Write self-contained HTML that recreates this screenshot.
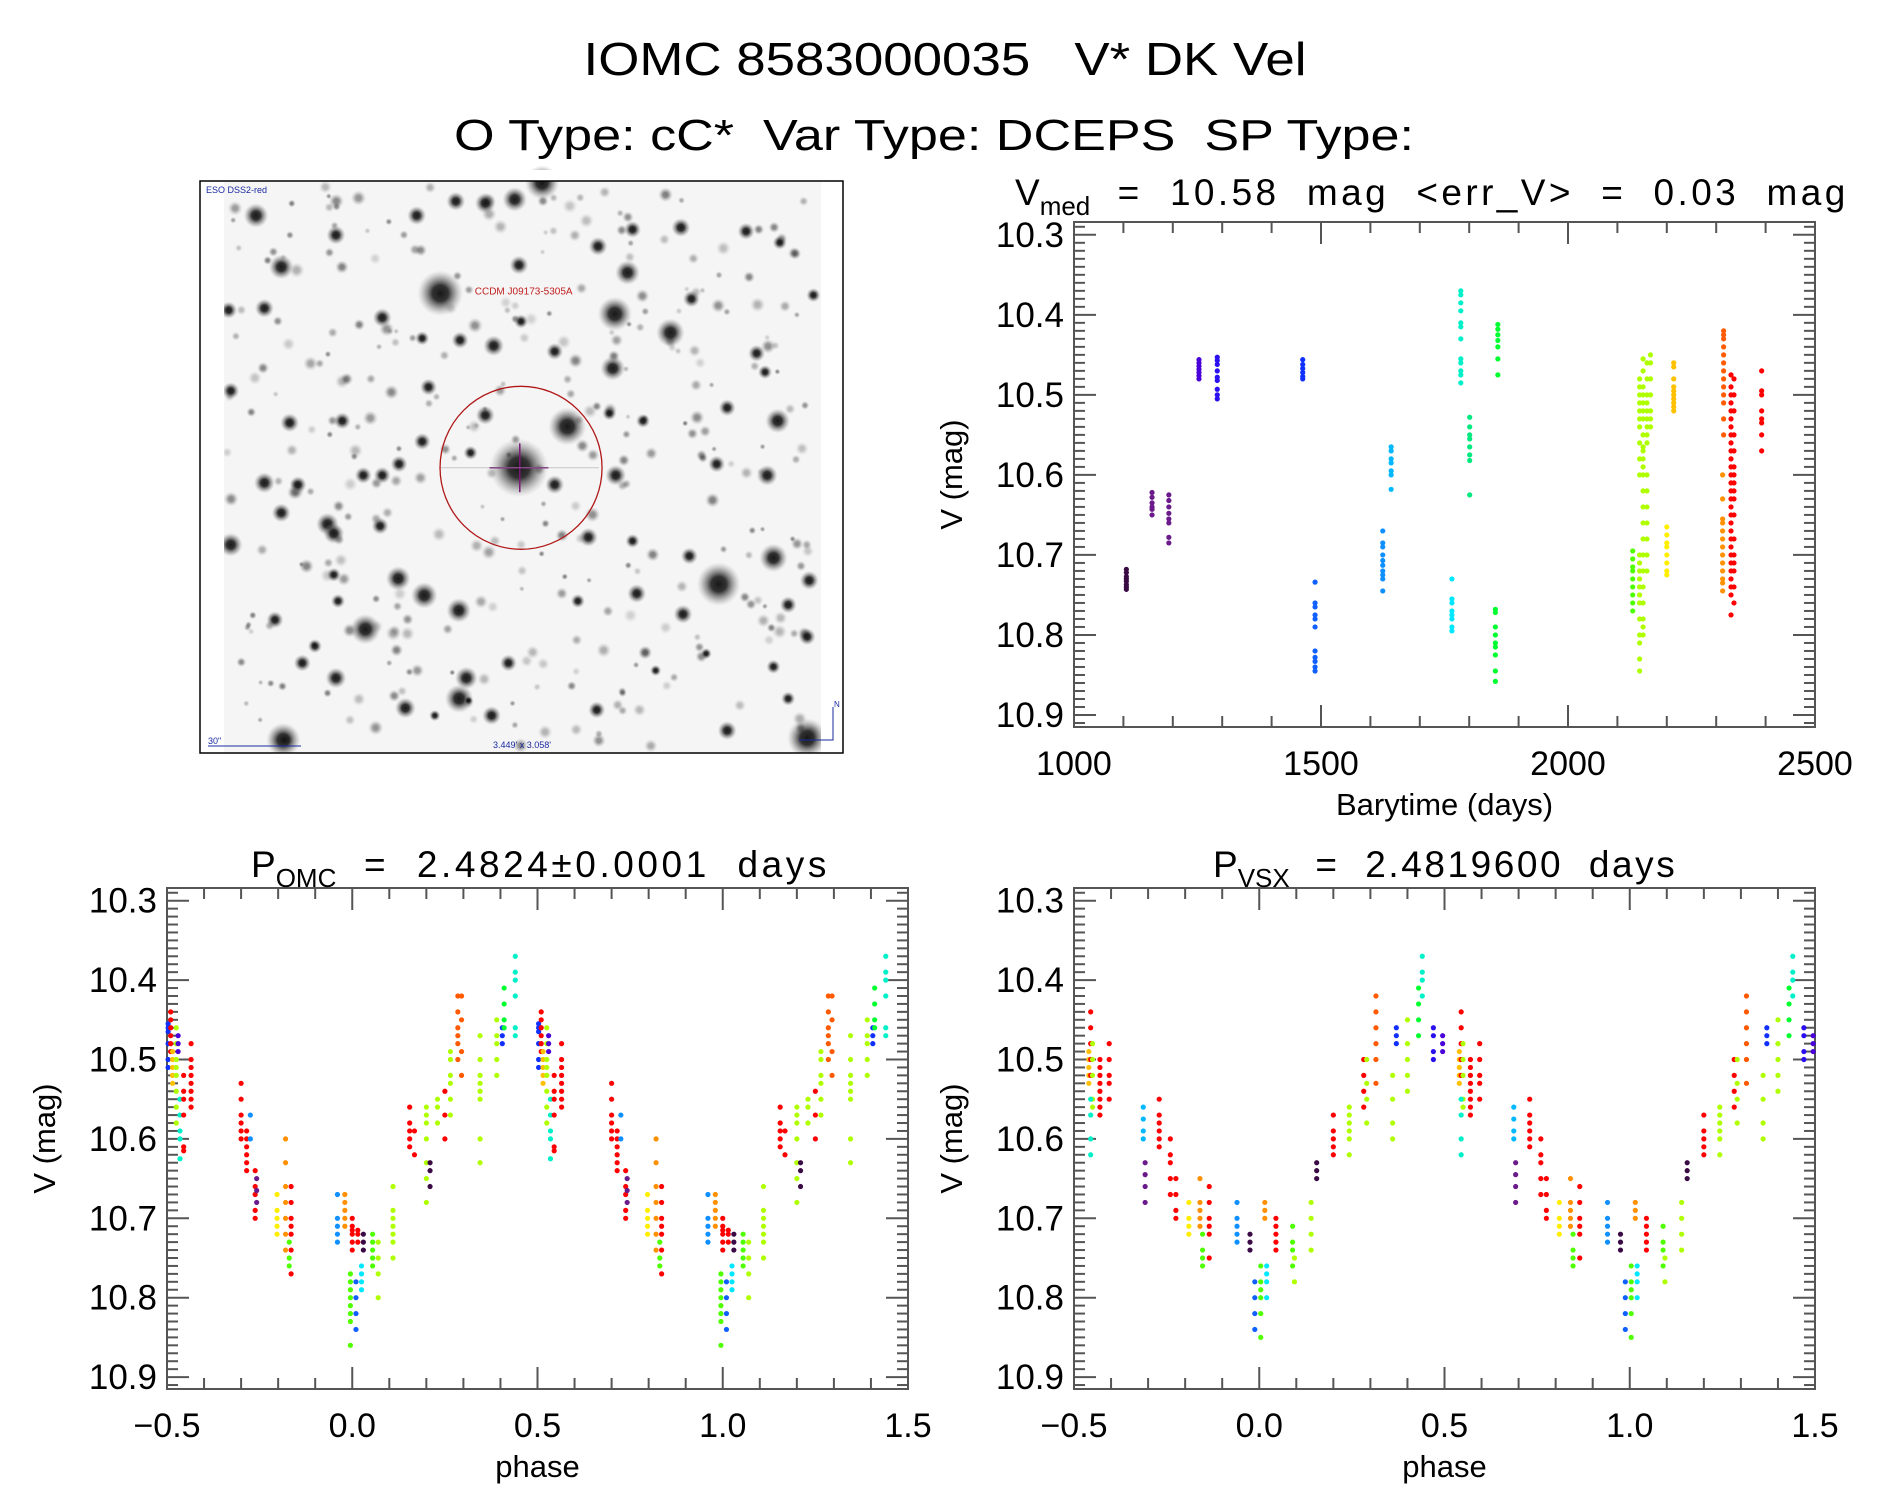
<!DOCTYPE html>
<html><head><meta charset="utf-8">
<style>
html,body{margin:0;padding:0;background:#fff;}
svg{display:block;font-family:"Liberation Sans",sans-serif;}
svg text{white-space:pre;}
</style></head>
<body>
<svg id="root" width="1889" height="1494" viewBox="0 0 1889 1494" xmlns="http://www.w3.org/2000/svg">
<defs>
<radialGradient id="starg">
<stop offset="0" stop-color="#000" stop-opacity="1"/>
<stop offset="0.35" stop-color="#111" stop-opacity="0.95"/>
<stop offset="0.7" stop-color="#555" stop-opacity="0.45"/>
<stop offset="1" stop-color="#999" stop-opacity="0"/>
</radialGradient>
</defs>
<text x="945" y="75" font-size="46" text-anchor="middle" textLength="723" lengthAdjust="spacingAndGlyphs">IOMC 8583000035   V* DK Vel</text>
<text x="934" y="150" font-size="44" text-anchor="middle" textLength="960" lengthAdjust="spacingAndGlyphs">O Type: cC*  Var Type: DCEPS  SP Type:</text>
<g id="sky"></g>
<g id="p1"></g>
<g id="p2"></g>
<g id="p3"></g>
</svg>
<script>
// ---- data ----
const colorKeys = ['dp','pu','in','bv','bl','b2','lb','sk','cy','tq','tg','gr','g2','yg','ye','go','or','ro','re'];
const colorVals = ['#3a0a45','#6a1a8a','#4a00d8','#2a10f0','#1030ff','#1060ff','#1090ff','#00b8ff','#00e8ff','#00f0c8','#00e880','#00ff30','#50ff00','#b0ff00','#ffee00','#ffc000','#ff9000','#ff5a00','#ff0000'];

const timeT = [1106,1158,1192,1253,1290,1463,1488,1625,1642,1765,1783,1801,1853,1858,2131,2145,2152,2160,2167,2200,2214,2313,2315,2330,2336,2392];
const timeC = ['dp','pu','pu','in','bv','bl','b2','lb','sk','cy','tq','tg','gr','gr','g2','yg','yg','yg','yg','ye','go','or','ro','re','re','re'];
const timeV = [
[10.718,10.722,10.727,10.73,10.733,10.737,10.74,10.743],
[10.622,10.628,10.635,10.64,10.643,10.65],
[10.625,10.632,10.64,10.648,10.655,10.66,10.678,10.685],
[10.456,10.46,10.464,10.468,10.472,10.476,10.48],
[10.453,10.457,10.462,10.47,10.478,10.482,10.493,10.5,10.505],
[10.456,10.462,10.467,10.472,10.477,10.48],
[10.734,10.76,10.765,10.775,10.78,10.79,10.82,10.828,10.833,10.84,10.845],
[10.67,10.685,10.69,10.7,10.707,10.713,10.72,10.725,10.73,10.745],
[10.565,10.57,10.58,10.585,10.595,10.6,10.618],
[10.73,10.755,10.76,10.77,10.775,10.78,10.79,10.795],
[10.37,10.375,10.385,10.395,10.41,10.415,10.43,10.455,10.46,10.47,10.475,10.485],
[10.528,10.54,10.55,10.555,10.565,10.575,10.582,10.625],
[10.768,10.772,10.79,10.8,10.81,10.815,10.825,10.845,10.858],
[10.412,10.418,10.425,10.432,10.44,10.455,10.475],
[10.695,10.705,10.715,10.72,10.73,10.74,10.75,10.76,10.77],
[10.48,10.49,10.5,10.51,10.52,10.53,10.54,10.56,10.58,10.6,10.7,10.71,10.72,10.73,10.74,10.75,10.76,10.78,10.8,10.81,10.83,10.845],
[10.455,10.47,10.49,10.5,10.51,10.52,10.53,10.55,10.565,10.57,10.58,10.59,10.6,10.62,10.64,10.66,10.68,10.7,10.72,10.74,10.76,10.78,10.79,10.8],
[10.46,10.48,10.5,10.51,10.52,10.53,10.54,10.55,10.56,10.6,10.62,10.64,10.66,10.68,10.7,10.72],
[10.45,10.46,10.48,10.5,10.52,10.53,10.54],
[10.665,10.675,10.685,10.69,10.7,10.71,10.72,10.725],
[10.46,10.465,10.48,10.49,10.495,10.5,10.505,10.51,10.515,10.52],
[10.6,10.63,10.655,10.66,10.67,10.68,10.69,10.7,10.71,10.72,10.73,10.735,10.745],
[10.42,10.425,10.43,10.44,10.45,10.46,10.47,10.48,10.49,10.5,10.51,10.53,10.55],
[10.475,10.49,10.5,10.51,10.52,10.53,10.54,10.55,10.56,10.57,10.58,10.59,10.6,10.61,10.62,10.63,10.64,10.65,10.66,10.67,10.68,10.69,10.7,10.71,10.72,10.73,10.74,10.75,10.775],
[10.48,10.5,10.52,10.55,10.57,10.59,10.6,10.61,10.62,10.63,10.65,10.68,10.7,10.71,10.72,10.74,10.76],
[10.47,10.495,10.5,10.52,10.53,10.535,10.55,10.57]
];

const omcP = [-0.497,-0.49,-0.485,-0.475,-0.47,-0.465,-0.455,-0.435,-0.3,-0.285,-0.275,-0.262,-0.258,-0.203,-0.18,-0.165,-0.17,-0.04,-0.02,0.0,0.015,0.03,-0.005,0.01,0.025,0.055,0.07,0.11,0.155,0.168,0.2,0.21,0.23,0.25,0.265,0.285,0.295,0.345,0.39,0.405,0.41,0.44];
const omcC = ['bl','re','go','yg','in','tq','re','re','re','re','lb','re','pu','ye','or','re','g2','lb','or','re','re','dp','g2','b2','cy','g2','yg','yg','re','re','yg','dp','yg','re','yg','ro','ro','yg','yg','bl','gr','tq'];
const omcV = [
[10.455,10.46,10.465,10.48,10.5,10.51],[10.44,10.45,10.46,10.47,10.48,10.49],[10.49,10.5,10.51,10.52,10.53],
[10.46,10.48,10.5,10.51,10.52,10.54,10.56,10.58],[10.47,10.48,10.49],[10.55,10.57,10.59,10.6,10.625],
[10.52,10.54,10.55,10.57,10.61,10.615],[10.48,10.5,10.51,10.52,10.53,10.54,10.55,10.56],
[10.53,10.55,10.57,10.58,10.59,10.6],[10.59,10.6,10.61,10.62,10.63,10.64],[10.57,10.6],
[10.64,10.66,10.67,10.69,10.7],[10.65,10.665,10.68],[10.67,10.69,10.7,10.71,10.72],
[10.6,10.63,10.66,10.68,10.7,10.72,10.74],[10.66,10.68,10.7,10.71,10.72,10.74,10.77],[10.73,10.75,10.76],
[10.67,10.7,10.71,10.72,10.73],[10.67,10.68,10.69,10.7,10.71],[10.7,10.71,10.715,10.72,10.73,10.74],
[10.715,10.72,10.73],[10.72,10.73,10.74],[10.77,10.78,10.79,10.8,10.81,10.82,10.83,10.86],
[10.78,10.8,10.82,10.84],[10.76,10.77,10.78,10.79],[10.72,10.73,10.74,10.75,10.76],[10.73,10.75,10.77,10.8],
[10.66,10.69,10.7,10.71,10.72,10.73,10.75],[10.56,10.58,10.59,10.6,10.61],[10.59,10.62],
[10.56,10.57,10.58,10.6,10.63,10.65,10.68],[10.63,10.64,10.66],[10.55,10.56,10.58],[10.54,10.57,10.6],
[10.49,10.5,10.52,10.53,10.55,10.57],[10.42,10.44,10.46,10.47,10.48,10.5],[10.42,10.45,10.49,10.52],
[10.47,10.5,10.52,10.53,10.54,10.55,10.6,10.63],[10.45,10.47,10.48,10.5,10.52],[10.46,10.47,10.48],
[10.41,10.43,10.45,10.46],[10.37,10.39,10.4,10.42,10.46,10.47]
];

const vsxP = [-0.46,-0.455,-0.45,-0.455,-0.43,-0.405,-0.313,-0.308,-0.27,-0.24,-0.225,-0.19,-0.16,-0.153,-0.135,-0.06,-0.025,-0.012,0.004,0.015,0.02,0.045,0.09,0.095,0.14,0.155,0.2,0.243,0.282,0.29,0.315,0.36,0.37,0.4,0.43,0.44,0.47,0.495];
const vsxC = ['go','re','yg','tq','re','re','sk','pu','re','re','re','ye','or','g2','re','lb','dp','b2','g2','or','cy','re','g2','yg','yg','dp','re','yg','re','yg','ro','yg','bl','yg','gr','tq','bv','in'];
const vsxV = [
[10.49,10.5,10.51,10.52,10.53],[10.44,10.46,10.48,10.5,10.52],[10.48,10.5,10.52,10.55,10.56],[10.55,10.57,10.6,10.62],
[10.5,10.51,10.52,10.53,10.54,10.55,10.56,10.57],[10.48,10.5,10.52,10.53,10.55],[10.56,10.575,10.59,10.6],
[10.63,10.645,10.66,10.68],[10.55,10.57,10.58,10.59,10.6,10.61],[10.6,10.62,10.63,10.65,10.67],[10.65,10.67,10.69,10.7],
[10.68,10.7,10.71,10.72],[10.65,10.68,10.69,10.7,10.71],[10.72,10.74,10.75,10.76],[10.66,10.68,10.7,10.71,10.72,10.75],
[10.68,10.7,10.71,10.72,10.73],[10.72,10.73,10.74],[10.78,10.8,10.82,10.84],[10.76,10.78,10.79,10.8,10.82,10.85],
[10.68,10.69,10.7],[10.76,10.77,10.78,10.8],[10.7,10.71,10.72,10.73,10.74],[10.71,10.73,10.74,10.76],[10.75,10.78],
[10.68,10.7,10.72,10.74],[10.63,10.64,10.65],[10.57,10.59,10.6,10.61,10.62],[10.56,10.57,10.58,10.59,10.6,10.62],
[10.5,10.52,10.54,10.56],[10.5,10.53,10.55,10.58],[10.42,10.44,10.46,10.48,10.5,10.53],[10.52,10.55,10.58,10.6],
[10.46,10.47,10.48],[10.45,10.48,10.5,10.52,10.54],[10.41,10.43,10.45,10.47],[10.37,10.39,10.4,10.42],
[10.46,10.47,10.49,10.5],[10.47,10.48,10.49]
];

const yTicks = [10.3,10.4,10.5,10.6,10.7,10.8,10.9];
const yTickLabels = ['10.3','10.4','10.5','10.6','10.7','10.8','10.9'];
const timeTicks = [1000,1500,2000,2500];
const timeTickLabels = ['1000','1500','2000','2500'];
const phaseTicks = [-0.5,0,0.5,1,1.5];
const phaseTickLabels = ['\u22120.5','0.0','0.5','1.0','1.5'];

// ---- helpers ----
const NS='http://www.w3.org/2000/svg';
function mk(tag, attrs, parent){const e=document.createElementNS(NS,tag);for(const k in attrs)e.setAttribute(k,attrs[k]);parent.appendChild(e);return e;}
function colorOf(k){return colorVals[colorKeys.indexOf(k)];}

function makePlot(g, box, xmin, xmax, xTicks, xLabels, xMinorStep, xLabel){
  const ymin=10.284, ymax=10.915;
  const sx=v=>box.x0+(v-xmin)/(xmax-xmin)*(box.x1-box.x0);
  const sy=v=>box.y0+(v-ymin)/(ymax-ymin)*(box.y1-box.y0);
  const frame=mk('rect',{x:box.x0,y:box.y0,width:box.x1-box.x0,height:box.y1-box.y0,fill:'none',stroke:'#555','stroke-width':2},g);
  
  
  for(let i=0;i<=63;i++){
    const v=10.29+i*0.01; if(v>ymax) break;
    const y=sy(v); const major=Math.abs(Math.round(v*10)/10-v)<1e-6;
    const L=major?22:11;
    mk('line',{x1:box.x0,x2:box.x0+L,y1:y,y2:y,stroke:'#555','stroke-width':2},g);
    mk('line',{x1:box.x1,x2:box.x1-L,y1:y,y2:y,stroke:'#555','stroke-width':2},g);
  }
  yTicks.forEach((v,i)=>{
    const t=mk('text',{x:box.x0-10,y:sy(v)+12,'font-size':35,'text-anchor':'end'},g);
    t.textContent=yTickLabels[i];
    
    
  });
  const nMinor=Math.round((xmax-xmin)/xMinorStep);
  for(let i=0;i<=nMinor;i++){
    const v=xmin+i*xMinorStep; const x=sx(v);
    const major=xTicks.some(t=>Math.abs(t-v)<1e-6);
    const L=major?22:11;
    mk('line',{x1:x,x2:x,y1:box.y1,y2:box.y1-L,stroke:'#555','stroke-width':2},g);
    mk('line',{x1:x,x2:x,y1:box.y0,y2:box.y0+L,stroke:'#555','stroke-width':2},g);
  }
  xTicks.forEach((v,i)=>{
    const t=mk('text',{x:sx(v),y:box.y1+48,'font-size':34,'text-anchor':'middle'},g);
    t.textContent=xLabels[i];
    
    
  });
  const xt=mk('text',{x:(box.x0+box.x1)/2,y:box.y1+88,'font-size':31,'text-anchor':'middle'},g);
  xt.textContent=xLabel;
  
  
  const cy=(box.y0+box.y1)/2, cx=box.x0-112;
  const yt=mk('text',{x:cx,y:cy,'font-size':31,'text-anchor':'middle',transform:`rotate(-90 ${cx} ${cy})`},g);
  yt.textContent='V (mag)';
  
  
  return {sx,sy};
}

function dot(g,x,y,c){
  const d=mk('circle',{cx:x,cy:y,r:2.6,fill:c},g);
  
  
}

// ---- time plot ----
(function(){
  const g=document.getElementById('p1');
  const ax=makePlot(g,{x0:1074,x1:1815,y0:222,y1:727},1000,2500,timeTicks,timeTickLabels,100,'Barytime (days)');
  timeT.forEach((t,i)=>{timeV[i].forEach(v=>dot(g,ax.sx(t),ax.sy(v),colorOf(timeC[i])));});
  const tt=mk('text',{x:1015,y:205,'font-size':37},g);
  
  
  tt.innerHTML='V<tspan font-size="26" dy="10">med</tspan><tspan dy="-10" textLength="755" lengthAdjust="spacing">  =  10.58  mag  &lt;err_V&gt;  =  0.03  mag</tspan>';
})();

function phasePlot(id,box,P,C,V,title,sub,tx,tlen){
  const g=document.getElementById(id);
  const ax=makePlot(g,box,-0.5,1.5,phaseTicks,phaseTickLabels,0.1,'phase');
  P.forEach((p,i)=>{
    [p,p+1].forEach(pp=>{ if(pp>=-0.5&&pp<=1.5) V[i].forEach(v=>dot(g,ax.sx(pp),ax.sy(v),colorOf(C[i]))); });
  });
  const tt=mk('text',{x:tx,y:877,'font-size':37},g);
  
  
  tt.innerHTML='P<tspan font-size="26" dy="10">'+sub+'</tspan><tspan dy="-10" textLength="'+tlen+'" lengthAdjust="spacing">'+title+'</tspan>';
}
phasePlot('p2',{x0:167,x1:908,y0:888,y1:1389},omcP,omcC,omcV,'  =  2.4824\u00b10.0001  days','OMC',251,490);
phasePlot('p3',{x0:1074,x1:1815,y0:888,y1:1389},vsxP,vsxC,vsxV,'  =  2.4819600  days','VSX',1213,385);

// ---- sky image ----
(function(){
  const g=document.getElementById('sky');
  const X=zx=>195+zx/2.377, Y=zy=>175+zy/2.664;
  mk('rect',{x:224,y:181,width:597,height:572,fill:'#f5f5f5'},g);
  let s=12345; const rnd=()=>{s=(s*1103515245+12345)%2147483648;return s/2147483648;};
  for(let i=0;i<320;i++){
    const x=226+rnd()*592,y=183+rnd()*568,r=3+rnd()*5;
    mk('circle',{cx:x,cy:y,r:r,fill:'url(#starg)',opacity:0.15+rnd()*0.35},g);
  }
  const stars=[[583,315,48],[770,780,62],[885,670,40],[1245,1090,46],[998,370,36],[1130,420,30],[1028,260,26],[205,245,26],[145,108,26],[993,515,26],[1385,655,26],[1375,1020,30],[628,1395,30],[645,1340,24],[545,1120,28],[405,1210,32],[315,930,24],[330,955,22],[483,1075,26],[627,1160,26],[210,1505,36],[1455,1500,42],[825,20,36],[760,65,26],[690,75,22],[620,70,20],[527,108,20],[335,160,20],[958,190,20],[1155,140,20],[1310,150,18],[1040,145,18],[770,240,20],[445,380,20],[710,455,22],[630,440,18],[540,435,15],[855,470,18],[775,390,15],[165,355,20],[80,360,18],[85,575,18],[225,660,20],[350,655,18],[555,565,18],[165,820,22],[245,825,18],[400,800,18],[445,800,18],[485,770,18],[540,710,18],[205,900,20],[85,985,25],[440,935,18],[935,965,20],[1000,800,22],[855,825,20],[690,640,20],[655,740,15],[1360,800,22],[1240,770,18],[1265,620,18],[1180,330,18],[1335,475,18],[1355,525,15],[1390,180,15],[1470,320,15],[1065,655,15],[985,635,15],[1050,1115,20],[1160,1170,20],[1410,1145,18],[1460,1080,20],[1455,1230,18],[1265,1480,20],[1375,1310,15],[1040,975,15],[1175,1015,18],[910,1135,15],[335,1340,22],[255,1300,18],[285,1255,15],[500,1420,22],[705,1440,20],[745,1300,18],[955,1425,18],[190,1185,18],[330,1065,15],[340,1135,15],[1410,1395,15],[1215,1275,12],[1095,1320,12],[570,1440,12],[650,1400,10]];
  stars.forEach(st=>mk('circle',{cx:X(st[0]),cy:Y(st[1]),r:st[2]/2.1,fill:'url(#starg)',opacity:0.9},g));
  mk('line',{x1:X(700),x2:X(840),y1:Y(780),y2:Y(780),stroke:'#7a1a7a','stroke-width':1.5},g);
  mk('line',{x1:X(772),x2:X(772),y1:Y(715),y2:Y(845),stroke:'#7a1a7a','stroke-width':1.5},g);
  mk('line',{x1:X(580),x2:X(960),y1:Y(780),y2:Y(780),stroke:'#999','stroke-width':1,opacity:0.5},g);
  const ring=mk('ellipse',{cx:X(775),cy:Y(780),rx:81,ry:81.5,fill:'none',stroke:'#b01818','stroke-width':1.3},g);
  
  
  mk('rect',{x:200,y:181,width:24,height:572,fill:'#fff'},g);
  mk('rect',{x:821,y:181,width:23,height:572,fill:'#fff'},g);
  mk('rect',{x:224,y:170,width:597,height:11,fill:'#fff'},g);
  mk('rect',{x:224,y:753,width:597,height:12,fill:'#fff'},g);
  mk('polyline',{points:'821,181 200,181 200,753 821,753',fill:'none',stroke:'#000','stroke-width':1.5},g);
  mk('polyline',{points:'821,181 843,181 843,753 821,753',fill:'none',stroke:'#000','stroke-width':1.5},g);
  const l1=mk('text',{x:206,y:193,'font-size':9,fill:'#1a2aa0'},g); l1.textContent='ESO DSS2-red';
   
  const l2=mk('text',{x:X(665),y:Y(318),'font-size':10,fill:'#c02020'},g); l2.textContent='CCDM J09173-5305A';
   
  const l3=mk('text',{x:208,y:744,'font-size':9,fill:'#1a2aa0'},g); l3.textContent='30"';
   
  mk('line',{x1:208,x2:301,y1:746,y2:746,stroke:'#1a2aa0','stroke-width':1},g);
  const l4=mk('text',{x:522,y:748,'font-size':9,fill:'#1a2aa0','text-anchor':'middle'},g); l4.textContent="3.449' x 3.058'";
   
  mk('polyline',{points:'799,740 833,740 833,707',fill:'none',stroke:'#1a2aa0','stroke-width':1},g);
  const l5=mk('text',{x:834,y:707,'font-size':8,fill:'#1a2aa0'},g); l5.textContent='N';
   
})();
</script>
</body></html>
